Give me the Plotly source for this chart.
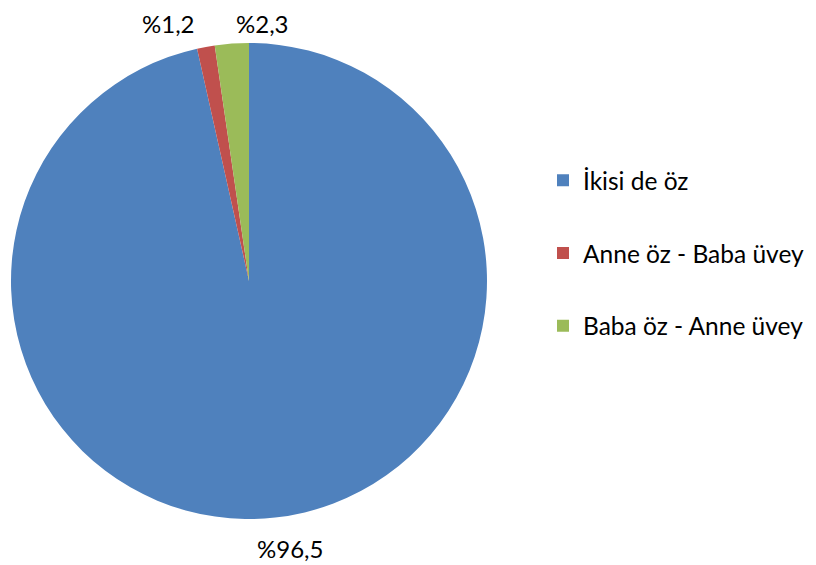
import plotly.graph_objects as go

categories = ["İkisi de öz", "Anne öz - Baba üvey", "Baba öz - Anne üvey"]
values = [96.5, 1.2, 2.3]
colors = ["#4F81BD", "#C0504D", "#9BBB59"]
labels_text = ["%" + f"{v:.1f}".replace(".", ",") for v in values]

W, H = 816, 565
OFF = 8  # page body margin
# label anchor positions (paper coordinates) for the percentage labels
label_x = [(290 - OFF) / W, (168 - OFF) / W, (262 - OFF) / W]
label_y = [1 - (548 - OFF) / H, 1.0, 1.0]
label_anchor = ["middle", "top", "top"]

FONT = "Lato, Liberation Sans, sans-serif"

fig = go.Figure()
fig.add_trace(go.Pie(
    labels=categories,
    values=values,
    textinfo="none",
    marker=dict(colors=colors, line=dict(width=0)),
    sort=False,
    direction="clockwise",
    rotation=0,
    showlegend=False,
    hoverinfo="label+percent",
    domain=dict(x=[(11 - OFF) / W, (487 - OFF) / W],
                y=[1 - (519 - OFF) / H, 1 - (43 - OFF) / H]),
))

for i, (cat, col) in enumerate(zip(categories, colors)):
    fig.add_trace(go.Scatter(
        x=[None], y=[None], mode="markers", name=cat,
        marker=dict(symbol="square", size=12, color=col),
        legendgroup=f"g{i}", showlegend=True,
    ))

for t, lx, ly, ya in zip(labels_text, label_x, label_y, label_anchor):
    fig.add_annotation(
        text=t, x=lx, y=ly, xref="paper", yref="paper",
        xanchor="center", yanchor=ya, showarrow=False, borderpad=0,
        font=dict(family=FONT, size=24, color="#000000"),
    )

fig.update_layout(
    width=W, height=H,
    margin=dict(l=0, r=0, t=0, b=0),
    paper_bgcolor="white", plot_bgcolor="white",
    xaxis=dict(visible=False), yaxis=dict(visible=False),
    legend=dict(
        x=535 / W, y=0.566, xanchor="left", yanchor="middle",
        font=dict(family=FONT, size=24.5, color="#000000"),
        tracegroupgap=38, itemsizing="trace", itemwidth=30,
        bgcolor="rgba(0,0,0,0)",
    ),
)

fig.write_html("out.html")
